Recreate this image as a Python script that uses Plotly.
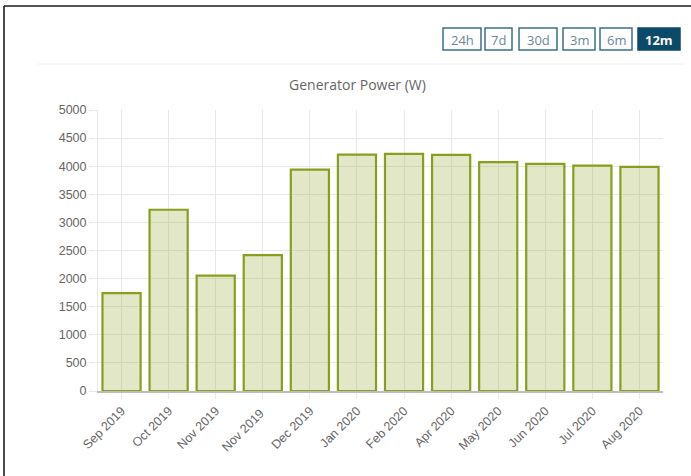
import plotly.graph_objects as go

months = ["Sep 2019", "Oct 2019", "Nov 2019", "Nov 2019 ", "Dec 2019", "Jan 2020",
          "Feb 2020", "Apr 2020", "May 2020", "Jun 2020", "Jul 2020", "Aug 2020"]
power_w = [1743, 3225, 2054, 2416, 3940, 4205, 4220, 4200, 4071, 4041, 4011, 3988]
y_ticks = [0, 500, 1000, 1500, 2000, 2500, 3000, 3500, 4000, 4500, 5000]
ranges = ["24h", "7d", "30d", "3m", "6m", "12m"]

W, H = 691, 476
L, R, T, B = 98, 28, 110, 85
PW, PH = W - L - R, H - T - B


def px(x):
    return (x - L) / PW


def py(y):
    return (H - B - y) / PH


fig = go.Figure()
fig.add_trace(go.Bar(
    x=months, y=power_w,
    marker=dict(color="rgba(138,160,30,0.25)",
                line=dict(color="#86a01e", width=2.2)),
    hoverinfo="x+y",
))

shapes = [
    # page frame
    dict(type="line", xref="paper", yref="paper", x0=px(4), x1=px(691), y0=py(6), y1=py(6),
         line=dict(color="#555", width=2)),
    dict(type="line", xref="paper", yref="paper", x0=px(4), x1=px(4), y0=py(6), y1=py(476),
         line=dict(color="#111", width=1.5)),
    # separator under buttons
    dict(type="line", xref="paper", yref="paper", x0=px(38), x1=px(685), y0=py(64), y1=py(64),
         line=dict(color="#eeeeee", width=1)),
]

annotations = [
    dict(text="Generator Power (W)", xref="paper", yref="paper", x=px(357), y=py(85),
         showarrow=False, font=dict(family="Open Sans", size=14, color="#666"),
         xanchor="center", yanchor="middle"),
]

btn_x = [443, 485, 519, 563, 600, 638]
btn_w = [38, 27, 38, 32, 32, 42]
for i, lab in enumerate(ranges):
    active = i == len(ranges) - 1
    shapes.append(dict(type="rect", xref="paper", yref="paper",
                       x0=px(btn_x[i]), x1=px(btn_x[i] + btn_w[i]), y0=py(50), y1=py(28),
                       line=dict(color="#0b4a68" if active else "#3d6f88", width=1.5),
                       fillcolor="#0b4a68" if active else "white", layer="above"))
    annotations.append(dict(text=("<b>%s</b>" % lab) if active else lab,
                            xref="paper", yref="paper",
                            x=px(btn_x[i] + btn_w[i] / 2), y=py(39.5), showarrow=False,
                            xanchor="center", yanchor="middle",
                            font=dict(family="Open Sans", size=13,
                                      color="white" if active else "#6a8796")))

fig.update_layout(
    width=W, height=H,
    margin=dict(l=L, r=R, t=T, b=B),
    paper_bgcolor="white", plot_bgcolor="white",
    showlegend=False,
    bargap=0.19,
    font=dict(family="Liberation Sans, Arial, sans-serif", size=12.5, color="#666"),
    shapes=shapes,
    annotations=annotations,
    xaxis=dict(type="category", tickangle=-45, showgrid=True, gridcolor="#e8e8e8",
               showline=True, linecolor="#bdbdbd", linewidth=1.5,
               ticks="outside", ticklen=6, tickcolor="#e8e8e8",
               tickfont=dict(size=12.5, color="#666"), fixedrange=True),
    yaxis=dict(range=[0, 5000], tickvals=y_ticks, showgrid=True, gridcolor="#e8e8e8",
               showline=True, linecolor="#e8e8e8", linewidth=1,
               ticks="outside", ticklen=8, tickcolor="#e8e8e8",
               zeroline=False, tickfont=dict(size=12.5, color="#666"), fixedrange=True),
)

fig.write_html("out.html", config={"displayModeBar": False},
               post_script="document.body.style.margin='0';document.body.style.overflow='hidden';")
